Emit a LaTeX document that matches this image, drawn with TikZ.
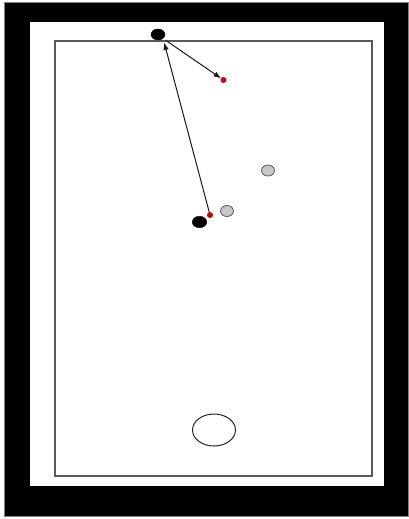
\documentclass[tikz,border=0pt]{standalone}
\usetikzlibrary{shapes.geometric,arrows.meta}
\begin{document}
\begin{tikzpicture}[x=1pt,y=-1pt,
  blackball/.style={ellipse,fill=black,draw=black,inner sep=0pt,minimum width=14pt,minimum height=11pt},
  redball/.style={circle,fill=red!85!black,draw=red!60!black,line width=0.3pt,inner sep=0pt,minimum size=5.5pt},
  grayball/.style={ellipse,fill=black!22,draw=black!65,line width=0.8pt,inner sep=0pt,minimum width=13pt,minimum height=11pt},
  hole/.style={ellipse,draw=black!85,line width=1pt,inner sep=0pt,minimum width=43pt,minimum height=32pt},
  conn/.style={line width=1pt,draw=black!90,-{Latex[length=7.5pt,width=5.5pt]}}]
\useasboundingbox (0,0) rectangle (408,519);
\fill[white] (0,0) rectangle (408,519);
\draw[fill=black,draw=black!50,line width=0.6pt] (4,2) rectangle (408,516);
\fill[white] (30,22) rectangle (384,486);
\draw[black!65,line width=1.1pt] (55,41) rectangle (372,476);
\node[blackball] (b1) at (158,34.5) {};
\node[redball] (r1) at (223.5,80) {};
\node[blackball,minimum width=14.5pt,minimum height=11.5pt] (b2) at (199.5,222) {};
\node[redball] (r2) at (210,215) {};
\node[grayball] (g1) at (227,211) {};
\node[grayball] (g2) at (268,170.5) {};
\node[hole] (h) at (214,430) {};
\draw[conn,shorten <=4pt] (b1.south east) -- (r1);
\draw[conn,shorten >=4pt] (r2) -- (b1.south east);
\end{tikzpicture}
\end{document}
